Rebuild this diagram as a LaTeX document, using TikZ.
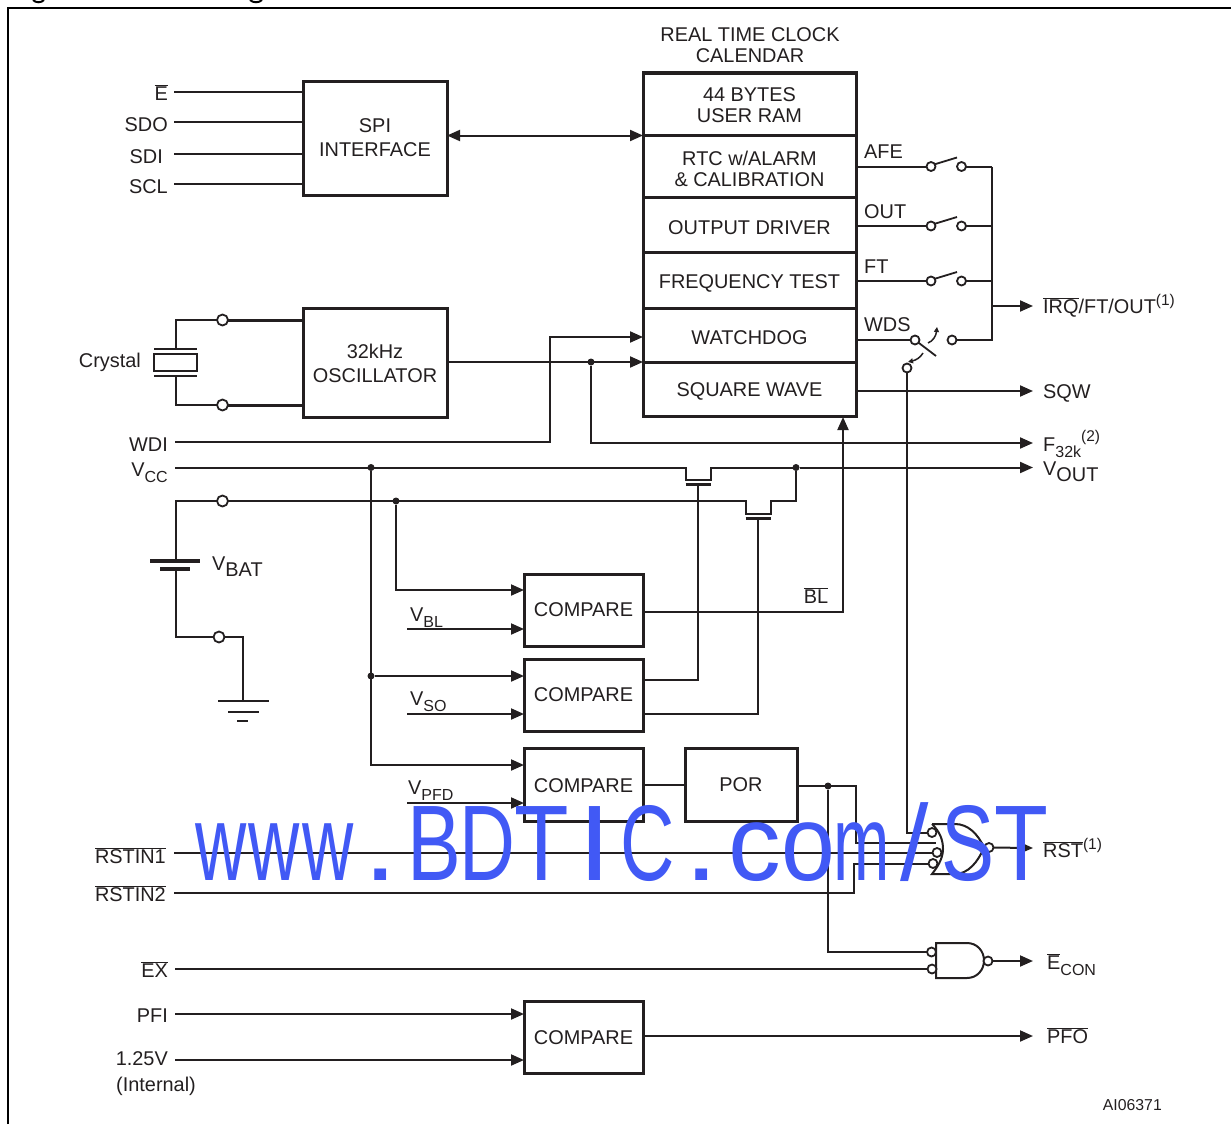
\documentclass[tikz,border=0pt]{standalone}
\usepackage{fontspec}
\usepackage{xcolor}
\usepackage{graphicx}
\setmainfont{Liberation Sans}
\usetikzlibrary{shapes,arrows.meta,positioning}
\definecolor{ink}{HTML}{231F20}
\definecolor{wmblue}{HTML}{4159F5}
\newcommand{\sbs}[1]{\raisebox{-6pt}{\fontsize{16}{16}\selectfont #1}}
\newcommand{\sbl}[1]{\raisebox{-6pt}{#1}}
\newcommand{\sps}[1]{\raisebox{8pt}{\fontsize{15.5}{16}\selectfont #1}}
\newcommand{\ovl}[1]{$\overline{\hbox{#1}}$}
\newcommand{\low}[1]{\rule{0pt}{#1pt}}
\newcommand{\wmch}[2]{\makebox[53.4pt]{\scalebox{#1}[1]{#2}}}
\tikzset{
    basefont/.style={font=\fontsize{19.9}{20.5}\selectfont, text=ink},
    box/.style={rectangle, draw=ink, line width=3pt, inner sep=0pt, outer sep=0pt, align=center, basefont},
    rtcbox/.style={box, minimum width=213pt},
    wire/.style={draw=ink, line width=2pt},
    bus/.style={draw=ink, line width=3pt},
    arrow/.style={wire, -{Triangle[length=13pt,width=11pt]}},
    port/.style={circle, draw=ink, fill=white, line width=1.8pt, inner sep=0pt, outer sep=0pt, minimum size=9pt},
    bubble/.style={port, minimum size=9pt},
    dot/.style={circle, fill=ink, inner sep=0pt, outer sep=0pt, minimum size=7pt},
    lblr/.style={anchor=base east, inner sep=0pt, basefont},
    lbll/.style={anchor=base west, inner sep=0pt, basefont}
}
\begin{document}
\begin{tikzpicture}[x=1pt, y=-1pt]
    \useasboundingbox (0,0) rectangle (1231,1124);
    \draw [draw=black, line width=2pt] (8,1124) -- (8,8) -- (1231,8);
    \draw [draw=black, line width=2pt] (33,0) .. controls (36,3) and (41,3) .. (44,0);
    \draw [draw=black, line width=2pt] (250,0) .. controls (253,3) and (259,3) .. (262,0);

    \node (spi) [box, minimum width=144pt, minimum height=114pt] at (375,138) {SPI\\[3.5pt]INTERFACE};
    \node (osc) [box, minimum width=144pt, minimum height=109pt] at (375,362.5) {\low{16.5}32kHz\\[3.5pt]OSCILLATOR};

    \node (rtctitle) [basefont, align=center, inner sep=0pt] at (750,45) {REAL TIME CLOCK\\CALENDAR};
    \node (ram) [rtcbox, minimum height=62pt] at (749.5,104) {\low{16.5}44 BYTES\\USER RAM};
    \node (alarm) [rtcbox, minimum height=62pt, below=0pt of ram] {\low{20.5}RTC w/ALARM\\\& CALIBRATION};
    \node (driver) [rtcbox, minimum height=55pt, below=0pt of alarm] {\low{21}OUTPUT DRIVER};
    \node (freq) [rtcbox, minimum height=56pt, below=0pt of driver] {\low{20}FREQUENCY TEST};
    \node (wdog) [rtcbox, minimum height=54pt, below=0pt of freq] {\low{20}WATCHDOG};
    \node (sqw) [rtcbox, minimum height=54pt, below=0pt of wdog] {\low{18}SQUARE WAVE};

    \node (cmpbl) [box, minimum width=119pt, minimum height=72pt] at (583.5,610) {COMPARE};
    \node (cmpso) [box, minimum width=119pt, minimum height=72pt] at (583.5,695) {COMPARE};
    \node (cmppfd) [box, minimum width=119pt, minimum height=73pt] at (583.5,785) {\low{16}COMPARE};
    \node (cmppfi) [box, minimum width=119pt, minimum height=72pt] at (583.5,1037) {\low{16}COMPARE};
    \node (por) [box, minimum width=112pt, minimum height=73pt] at (741,785) {POR};

    \node [lblr] at (168,100) {\ovl{E}};
    \node [lblr] at (168,131) {SDO};
    \node [lblr] at (163,163) {SDI};
    \node [lblr] at (168,193) {SCL};
    \foreach \pin/\y in {pe/92,psdo/122,psdi/154,pscl/184} {
        \coordinate (\pin) at (174,\y);
        \draw [wire] (\pin) -- (\pin -| spi.west);
    }
    \draw [wire, {Triangle[length=13pt,width=11pt]}-{Triangle[length=13pt,width=11pt]}] (spi.east |- 0,135.5) -- (ram.west |- 0,135.5);

    \node (crystal) [rectangle, draw=ink, line width=2pt, inner sep=0pt, minimum width=43pt, minimum height=17pt] at (175.5,362.5) {};
    \node (xtala) [port, minimum size=11pt] at (222.5,320) {};
    \node (xtalb) [port, minimum size=11pt] at (222.5,405) {};
    \coordinate (plateu) at (175.5,349);
    \coordinate (plated) at (175.5,375.5);
    \draw [wire] ([xshift=-21.5pt]plateu) -- ([xshift=21.5pt]plateu);
    \draw [wire] ([xshift=-21.5pt]plated) -- ([xshift=21.5pt]plated);
    \draw [wire] (plateu) |- (xtala);
    \draw [wire] (plated) |- (xtalb);
    \draw [bus] (xtala) -- (xtala -| osc.west);
    \draw [bus] (xtalb) -- (xtalb -| osc.west);
    \node [lblr] at (141,367) {Crystal};

    \coordinate (pwdi) at (175,441.5);
    \coordinate (pvcc) at (175,467.5);
    \node [lblr] at (168,451) {WDI};
    \node [lblr] at (168,476) {V\sbs{CC}};
    \draw [arrow] (pwdi) -- (550,441.5) |- (wdog.west |- 0,337);
    \draw [arrow] (osc.east |- 0,362) -- (wdog.west |- 0,362);
    \node (dotosc) [dot] at (591,362) {};
    \coordinate (pf) at (1033,443);
    \draw [arrow] (dotosc) |- (pf);
    \node [lbll] at (1043,451) {F\sbs{32k}\raisebox{10pt}{\fontsize{15.5}{16}\selectfont (2)}};

    \foreach \name/\y/\txt/\ty in {afe/166.5/AFE/158,out/226/OUT/218,ft/281/FT/273} {
        \node (\name a) [port] at (931,\y) {};
        \node (\name b) [port] at (961.5,\y) {};
        \draw [wire] (\name a -| ram.east) -- (\name a);
        \draw [wire, line width=1.8pt] ([shift={(3,-2)}]\name a.center) -- ([shift={(26,-9)}]\name a.center);
        \draw [wire] (\name b) -- (\name b -| 992,0);
        \node [lbll] at (864,\ty) {\txt};
    }
    \node (wdsa) [port] at (915,340) {};
    \node (wdsb) [port] at (952,340) {};
    \node (wdsc) [port] at (907,368) {};
    \draw [wire] (wdsa -| ram.east) -- (wdsa);
    \draw [wire, line width=1.8pt] (wdsa) -- (936,356);
    \draw [wire, line width=1.5pt, -{Triangle[length=5pt,width=5pt]}] (928,343) .. controls (933,341) and (936,336) .. (937,327);
    \draw [wire, line width=1.5pt, -{Triangle[length=5pt,width=5pt]}] (923,353) .. controls (920,358) and (916,360) .. (908,362);
    \draw [wire] (afeb -| 992,0) -- (992,340) -- (wdsb);
    \node [lbll] at (864,331) {WDS};
    \coordinate (pirq) at (1033,306);
    \draw [arrow] (992,306) -- (pirq);
    \node [lbll] at (1043,313) {\ovl{IRQ}/FT/OUT\sps{(1)}};

    \coordinate (psqw) at (1033,391);
    \draw [arrow] (sqw.east |- psqw) -- (psqw);
    \node [lbll] at (1043,398) {SQW};

    \node (dotvcc) [dot] at (371,467.5) {};
    \node (dotbat) [dot] at (396,501) {};
    \node (dotout) [dot] at (796,467.5) {};
    \node (xbat) [port, minimum size=11pt] at (222.5,501) {};
    \coordinate (pvout) at (1033,467.5);
    \draw [wire] (pvcc) -- (685.5,467.5) -- (685.5,480) -- (711,480) -- (711,467.5) -- (dotout);
    \draw [arrow] (dotout) -- (pvout);
    \node [lbll] at (1043,475) {V\sbl{OUT}};
    \draw [wire] (xbat) -- (745.5,501) -- (745.5,514) -- (771,514) -- (771,501) -- (796,501) -- (dotout);
    \draw [bus] (685.5,484.5) -- (711,484.5);
    \draw [bus] (745.5,518.5) -- (771,518.5);
    \draw [wire] (698,484.5) |- (cmpso.east |- 0,680);
    \draw [wire] (758,518.5) |- (cmpso.east |- 0,714);

    \draw [wire] (xbat) -- (175.5,501) -- (175.5,561);
    \draw [draw=ink, line width=4pt] (150,561) -- (200,561);
    \draw [draw=ink, line width=3.5pt] (160,569) -- (190,569);
    \node (xgnd) [port, minimum size=11pt] at (219,637) {};
    \draw [wire] (175.5,569) |- (xgnd);
    \draw [wire] (xgnd) -- (243,637) -- (243,701);
    \draw [wire] (218,701) -- (269,701);
    \draw [wire] (228,711.5) -- (259,711.5);
    \draw [wire] (237,721) -- (248,721);
    \node [lbll] at (212,570) {V\sbl{BAT}};

    \draw [arrow] (dotbat) |- (cmpbl.west |- 0,590);
    \coordinate (pvbl) at (407,629);
    \draw [arrow] (pvbl) -- (pvbl -| cmpbl.west);
    \node [lbll] at (410,621) {V\sbs{BL}};
    \node (dotso) [dot] at (371,676) {};
    \draw [arrow] (dotvcc) -- (371,765) -- (cmppfd.west |- 0,765);
    \draw [arrow] (dotso) -- (cmpso.west |- dotso);
    \coordinate (pvso) at (407,714);
    \draw [arrow] (pvso) -- (pvso -| cmpso.west);
    \node [lbll] at (410,705) {V\sbs{SO}};
    \coordinate (pvpfd) at (407,803);
    \draw [arrow] (pvpfd) -- (pvpfd -| cmppfd.west);
    \node [lbll] at (408,794) {V\sbs{PFD}};

    \draw [arrow] (cmpbl.east |- 0,612) -- (843,612) -- (843,417);
    \node [anchor=base, inner sep=0pt, basefont] at (816,603) {\ovl{BL}};

    \draw [wire] (cmppfd.east) -- (por.west);
    \node (dotpor) [dot] at (828,786) {};

    \draw [draw=ink, line width=2pt, fill=white] (932,824) -- (955,824) .. controls (968,824) and (978,834) .. (984,847.5) .. controls (978,862) and (968,874) .. (955,874) -- (932,874) .. controls (940,864) and (943,856) .. (943,849) .. controls (943,840) and (940,832) .. (932,824);
    \node (rsta) [bubble] at (932,832.5) {};
    \node (rstc) [bubble] at (937,852.5) {};
    \node (rstd) [bubble] at (933,863.5) {};
    \node (rstout) [bubble] at (989,847.5) {};
    \coordinate (prstin) at (174,852.5);
    \coordinate (prstio) at (174,892.5);
    \draw [wire] (wdsc) |- (rsta);
    \draw [wire] (por.east |- dotpor) -- (856,786) -- (856,843) -- (936,843);
    \draw [wire] (prstin) -- (rstc);
    \draw [wire] (prstio) -- (854,892.5) -- (854,863.5) -- (rstd);
    \coordinate (prst) at (1033,848);
    \draw [arrow] (rstout) -- (prst);
    \node [lblr] at (166,863) {\ovl{RSTIN1}};
    \node [lblr] at (166,901) {\ovl{RSTIN2}};
    \node [lbll] at (1043,857) {\ovl{RST}\sps{(1)}};

    \draw [draw=ink, line width=2pt, fill=white] (936,943) -- (967,943) .. controls (977,943) and (984,951) .. (984,960.5) .. controls (984,970) and (977,978) .. (967,978) -- (936,978) -- cycle;
    \node (cona) [bubble] at (931.5,952) {};
    \node (conb) [bubble] at (932,969) {};
    \node (conout) [bubble] at (988,961) {};
    \coordinate (pex) at (175,969);
    \coordinate (pecon) at (1033,961);
    \draw [wire] (dotpor) |- (cona);
    \draw [wire] (pex) -- (conb);
    \draw [arrow] (conout) -- (pecon);
    \node [lblr] at (168,977) {\ovl{EX}};
    \node [lbll] at (1047,969) {\ovl{E}\sbs{CON}};

    \coordinate (ppfi) at (175,1014);
    \coordinate (pref) at (175,1060);
    \coordinate (ppfo) at (1033,1036);
    \draw [arrow] (ppfi) -- (ppfi -| cmppfi.west);
    \draw [arrow] (pref) -- (pref -| cmppfi.west);
    \draw [arrow] (cmppfi.east |- ppfo) -- (ppfo);
    \node [lblr] at (168,1022) {PFI};
    \node [lblr] at (168,1065) {1.25V};
    \node [anchor=base, inner sep=0pt, basefont] at (156,1091) {(Internal)};
    \node [lbll] at (1047,1043) {\ovl{PFO}};
    \node [anchor=base east, inner sep=0pt, text=ink, font=\fontsize{15.8}{16}\selectfont] at (1162,1110) {AI06371};

    \node (watermark) [anchor=base west, inner sep=0pt, text=wmblue, font=\fontsize{107.5}{108}\selectfont] at (194,880)
        {\wmch{.66}{w}\wmch{.66}{w}\wmch{.66}{w}\wmch{1.15}{.}\wmch{.75}{B}\wmch{.72}{D}\wmch{.83}{T}\wmch{1.1}{I}\wmch{.7}{C}\wmch{1.15}{.}\wmch{.98}{c}\wmch{.9}{o}\wmch{.63}{m}\wmch{.95}{/}\wmch{.74}{S}\wmch{.82}{T}};
\end{tikzpicture}
\end{document}
